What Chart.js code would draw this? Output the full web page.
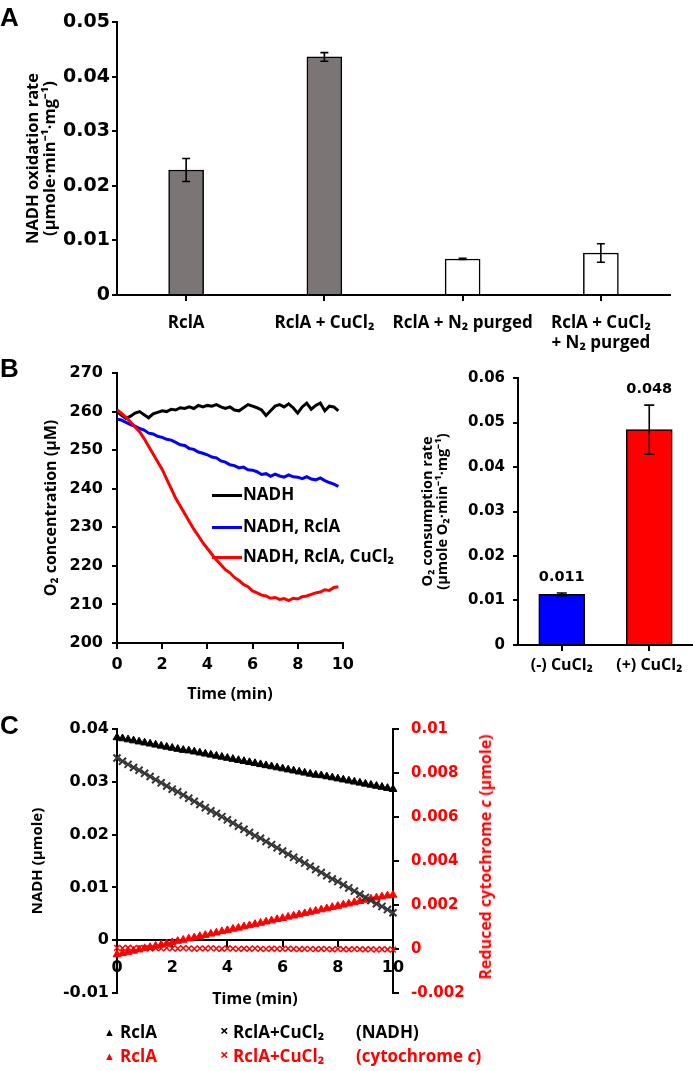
<!DOCTYPE html>
<html>
<head>
<meta charset="utf-8">
<script src="https://cdn.jsdelivr.net/npm/chart.js@4.4.1/dist/chart.umd.min.js"></script>
<style>
  body { margin: 0; background: #fff; width: 693px; height: 1071px; position: relative; overflow: hidden;
         font-family: 'Open Sans', sans-serif; font-weight: bold; }
  canvas { position: absolute; }
  .t { position: absolute; white-space: nowrap; line-height: 1; font-size: 17px; }
  .letter { position: absolute; font-family: 'Liberation Sans', Arial, sans-serif; font-size: 26px; line-height: 1; }
  .ln { position: absolute; height: 3px; width: 30px; }
  .red { color: #ff0000; }
</style>
</head>
<body>
<canvas id="chartA" width="693" height="355" style="left:0;top:0"></canvas>
<canvas id="chartB1" width="360" height="360" style="left:0;top:350px"></canvas>
<canvas id="chartB2" width="353" height="360" style="left:340px;top:350px"></canvas>
<canvas id="chartC" width="500" height="330" style="left:0;top:700px"></canvas>

<div class="letter" style="left:0;top:4px">A</div>
<div class="letter" style="left:0;top:355px">B</div>
<div class="letter" style="left:0;top:712px">C</div>

<!-- legend B (left) -->
<div class="ln" style="left:212px;top:494px;background:#000"></div>
<div class="t" style="left:243px;top:485px">NADH</div>
<div class="ln" style="left:212px;top:526px;background:#0000ff"></div>
<div class="t" style="left:243px;top:517px">NADH, RclA</div>
<div class="ln" style="left:212px;top:556px;background:#ff0000"></div>
<div class="t" style="left:243px;top:547px">NADH, RclA, CuCl₂</div>

<!-- right axis title C -->
<div class="t red" style="left:485px;top:857px;font-size:16px;transform:translate(-50%,-50%) rotate(-90deg)">Reduced cytochrome <i>c</i> (µmole)</div>

<!-- legend C -->
<div class="t" style="left:104px;top:1026px;font-size:11px">▲</div>
<div class="t" style="left:120px;top:1023px">RclA</div>
<div class="t" style="left:220px;top:1023px;font-size:15px">×</div>
<div class="t" style="left:233px;top:1023px">RclA+CuCl₂</div>
<div class="t" style="left:356px;top:1023px">(NADH)</div>
<div class="t red" style="left:104px;top:1050px;font-size:11px">▲</div>
<div class="t red" style="left:120px;top:1047px">RclA</div>
<div class="t red" style="left:220px;top:1047px;font-size:15px">×</div>
<div class="t red" style="left:233px;top:1047px">RclA+CuCl₂</div>
<div class="t red" style="left:356px;top:1047px">(cytochrome <i>c</i>)</div>

<script>
// ---- panel A: NADH oxidation rate ----
const categoriesA = ['RclA', 'RclA + CuCl₂', 'RclA + N₂ purged', ['RclA + CuCl₂', '+ N₂ purged']];
const ratesA = [0.0229, 0.0436, 0.0066, 0.0077];
const errorsA = [0.0021, 0.0008, 0.0001, 0.0017];

// ---- panel B (left): O2 trace ----
const timeB = [0,0.2,0.4,0.6,0.8,1,1.2,1.4,1.6,1.8,2,2.2,2.4,2.6,2.8,3,3.2,3.4,3.6,3.8,
  4,4.2,4.4,4.6,4.8,5,5.2,5.4,5.6,5.8,6,6.2,6.4,6.6,6.8,7,7.2,7.4,7.6,7.8,
  8,8.2,8.4,8.6,8.8,9,9.2,9.4,9.6,9.8];
const o2Nadh = [260,259,258.2,258.8,259.6,260,259.2,258.4,259.4,259.8,
  260.2,260,260.6,260.4,261,260.8,261.2,260.8,261.6,261.2,
  261.6,261.4,261.8,261.2,260.8,261.2,260.4,260.2,261,261.8,
  261.4,261,260.4,259,260.2,261.4,261.8,261.2,262,261,
  259.6,261.2,262.2,260.6,261.6,262.2,260.2,261.4,261.2,260.2];
const o2Rcla = [258,257.8,257.2,256.6,256.2,255.6,255.2,254.4,254.2,253.6,
  253.3,252.8,252.6,252,251.4,251.2,250.4,250.2,249.5,249.2,
  248.8,248.2,248,247.2,246.9,246.2,246,245.4,245.6,244.9,
  244.8,244.4,243.7,243.9,243.2,243.8,243.3,243,243.6,243.1,
  243,242.6,243.1,242.5,242.3,242.8,242.1,241.6,241.2,240.6];
const o2RclaCu = [260.5,259.5,258.5,257.3,256,254.8,253,251,249,247,
  245,242.5,240,237.5,235.5,233.5,231.5,229.5,227.8,226,
  224.5,223,221.5,220.3,219,218.2,217,216.2,215.2,214.6,
  213.5,213,212.4,212.2,211.6,211.8,211.3,211.5,211,211.6,
  211.4,212,212.2,212.6,213,213.2,213.8,213.6,214.4,214.6];

// ---- panel B (right): O2 consumption rate ----
const categoriesB = ['(-) CuCl₂', '(+) CuCl₂'];
const ratesB = [0.0114, 0.0484];
const errorsB = [0.0003, 0.0055];

// ---- panel C: NADH and reduced cytochrome c ----
const timeC = [0,0.2,0.4,0.6,0.8,1,1.2,1.4,1.6,1.8,2,2.2,2.4,2.6,2.8,3,3.2,3.4,3.6,3.8,
  4,4.2,4.4,4.6,4.8,5,5.2,5.4,5.6,5.8,6,6.2,6.4,6.6,6.8,7,7.2,7.4,7.6,7.8,
  8,8.2,8.4,8.6,8.8,9,9.2,9.4,9.6,9.8,10];
const nadhRcla = [0.0384,0.0382,0.0380,0.0378,0.0376,0.0374,0.0372,0.0370,0.0368,0.0366,
  0.0364,0.0362,0.0360,0.0359,0.0357,0.0355,0.0353,0.0351,0.0349,0.0347,
  0.0345,0.0343,0.0341,0.0339,0.0337,0.0335,0.0333,0.0331,0.0329,0.0327,
  0.0325,0.0323,0.0321,0.0319,0.0317,0.0315,0.0313,0.0312,0.0310,0.0308,
  0.0306,0.0304,0.0302,0.0300,0.0298,0.0296,0.0294,0.0292,0.0290,0.0288,0.0286];
const nadhRclaCu = [0.0345,0.0339,0.0333,0.0327,0.0322,0.0316,0.0310,0.0304,0.0298,0.0292,
  0.0286,0.0281,0.0275,0.0269,0.0263,0.0257,0.0251,0.0245,0.0240,0.0234,
  0.0228,0.0222,0.0216,0.0210,0.0204,0.0198,0.0193,0.0187,0.0181,0.0175,
  0.0169,0.0163,0.0157,0.0152,0.0146,0.0140,0.0134,0.0128,0.0122,0.0116,
  0.0111,0.0105,0.0099,0.0093,0.0087,0.0081,0.0075,0.0069,0.0064,0.0058,0.0052];
const cytRcla = [-0.00025,-0.00020,-0.00014,-0.00009,-0.00003,0.00003,0.00008,0.00014,0.00019,0.00025,
  0.00030,0.00036,0.00041,0.00047,0.00052,0.00058,0.00063,0.00069,0.00074,0.00080,
  0.00085,0.00091,0.00096,0.00102,0.00107,0.00113,0.00118,0.00124,0.00129,0.00135,
  0.00140,0.00146,0.00151,0.00157,0.00162,0.00168,0.00173,0.00179,0.00184,0.00190,
  0.00195,0.00201,0.00206,0.00212,0.00217,0.00223,0.00228,0.00233,0.00238,0.00242,0.00246];
const cytRclaCu = [0.00005,0.00004,0.00006,0.00003,0.00005,0.00004,0.00002,0.00004,0.00003,0.00005,
  0.00003,0.00002,0.00004,0.00003,0.00001,0.00003,0.00002,0.00004,0.00002,0.00001,
  0.00003,0.00002,0.00000,0.00002,0.00001,0.00003,0.00001,0.00000,0.00002,0.00001,
  0.00000,0.00002,0.00001,-0.00001,0.00001,0.00000,-0.00001,0.00001,0.00000,-0.00002,
  0.00000,-0.00001,-0.00002,0.00000,-0.00001,-0.00002,-0.00001,-0.00003,-0.00001,-0.00002,-0.00003];

const TXT = "'Open Sans', sans-serif";
const NUM = "'DejaVu Sans', sans-serif";

Chart.defaults.animation = false;
Chart.defaults.responsive = false;
Chart.defaults.devicePixelRatio = 1;
Chart.defaults.plugins.legend.display = false;
Chart.defaults.plugins.tooltip.enabled = false;
Chart.defaults.color = '#000';

const fmt = v => (Math.abs(v) < 1e-12 ? '0' : String(+v.toFixed(4)));
const pts = (xs, ys) => xs.map((x, i) => ({ x: x, y: ys[i] }));
const border = { color: '#000', width: 2 };
const tickGrid = len => ({ drawOnChartArea: false, color: '#000', lineWidth: 2, tickLength: len });

// error bars (and optional value labels) drawn from the y scale
const errorBars = {
  id: 'errorBars',
  afterDatasetsDraw(chart, args, opts) {
    const ctx = chart.ctx;
    const y = chart.scales.y;
    const ds = chart.data.datasets[0];
    ctx.save();
    ctx.strokeStyle = '#000';
    ctx.lineWidth = 1.6;
    chart.getDatasetMeta(0).data.forEach((bar, i) => {
      const v = ds.data[i], e = opts.errors[i];
      const top = y.getPixelForValue(v + e), bot = y.getPixelForValue(v - e);
      const x = bar.x, c = opts.cap;
      ctx.beginPath();
      ctx.moveTo(x, top); ctx.lineTo(x, bot);
      ctx.moveTo(x - c, top); ctx.lineTo(x + c, top);
      ctx.moveTo(x - c, bot); ctx.lineTo(x + c, bot);
      ctx.stroke();
      if (opts.labels) {
        ctx.fillStyle = '#000';
        ctx.font = 'bold 14.5px ' + NUM;
        ctx.textAlign = 'center';
        ctx.textBaseline = 'middle';
        ctx.fillText(v.toFixed(3), x, top - 16);
      }
    });
    ctx.restore();
  }
};

// ---- A ----
new Chart(document.getElementById('chartA'), {
  type: 'bar',
  data: {
    labels: categoriesA,
    datasets: [{
      data: ratesA,
      backgroundColor: ['#7b7575', '#7b7575', '#ffffff', '#ffffff'],
      borderColor: '#000',
      borderWidth: 1.5,
      barThickness: 35
    }]
  },
  plugins: [errorBars],
  options: {
    layout: { padding: { top: 22, right: 23, bottom: 0, left: 0 } },
    plugins: { errorBars: { errors: errorsA, cap: 4 } },
    scales: {
      x: {
        grid: Object.assign(tickGrid(6), { offset: false }),
        border: border,
        ticks: { font: { family: TXT, size: 17, weight: 'bold' }, padding: 12, maxRotation: 0, autoSkip: false },
        afterFit: s => { s.height = 60; }
      },
      y: {
        min: 0, max: 0.05,
        grid: tickGrid(5),
        border: border,
        ticks: { stepSize: 0.01, callback: fmt, padding: 2, font: { family: NUM, size: 19, weight: 'bold' } },
        title: {
          display: true,
          text: ['NADH oxidation rate', '(µmole·min⁻¹·mg⁻¹)'],
          font: { family: TXT, size: 16.5, weight: 'bold', lineHeight: 1.05 },
          padding: { top: 24.3, bottom: 0 }
        },
        afterFit: s => { s.width = 117; }
      }
    }
  }
});

// ---- B left ----
new Chart(document.getElementById('chartB1'), {
  type: 'line',
  data: {
    datasets: [
      { label: 'NADH, RclA, CuCl₂', data: pts(timeB, o2RclaCu), borderColor: '#ff0000', borderWidth: 3, pointRadius: 0, order: 0 },
      { label: 'NADH, RclA', data: pts(timeB, o2Rcla), borderColor: '#0000ff', borderWidth: 3, pointRadius: 0, order: 1 },
      { label: 'NADH', data: pts(timeB, o2Nadh), borderColor: '#000', borderWidth: 3, pointRadius: 0, order: 2 }
    ]
  },
  options: {
    layout: { padding: { top: 23, right: 15, bottom: 0, left: 0 } },
    scales: {
      x: {
        type: 'linear', min: 0, max: 10,
        grid: tickGrid(6),
        border: border,
        ticks: { stepSize: 2, padding: 6, font: { family: NUM, size: 16, weight: 'bold' } },
        title: { display: true, text: 'Time (min)', font: { family: TXT, size: 16, weight: 'bold' }, padding: { top: 0, bottom: 6 } },
        afterFit: s => { s.height = 67; }
      },
      y: {
        min: 200, max: 270,
        grid: tickGrid(5),
        border: border,
        ticks: { stepSize: 10, padding: 9, font: { family: NUM, size: 16, weight: 'bold' } },
        title: { display: true, text: 'O₂ concentration (µM)', font: { family: TXT, size: 16, weight: 'bold' }, padding: { top: 42, bottom: 0 } },
        afterFit: s => { s.width = 117; }
      }
    }
  }
});

// ---- B right ----
new Chart(document.getElementById('chartB2'), {
  type: 'bar',
  data: {
    labels: categoriesB,
    datasets: [{
      data: ratesB,
      backgroundColor: ['#0000ff', '#ff0000'],
      borderColor: '#000',
      borderWidth: 1.5,
      barThickness: 46
    }]
  },
  plugins: [errorBars],
  options: {
    layout: { padding: { top: 28, right: 0, bottom: 0, left: 0 } },
    plugins: { errorBars: { errors: errorsB, cap: 5, labels: true } },
    scales: {
      x: {
        grid: Object.assign(tickGrid(6), { offset: false }),
        border: border,
        ticks: { font: { family: TXT, size: 16, weight: 'bold' }, padding: 5, maxRotation: 0, autoSkip: false },
        afterFit: s => { s.height = 65; }
      },
      y: {
        min: 0, max: 0.06,
        grid: tickGrid(5),
        border: border,
        ticks: { stepSize: 0.01, callback: fmt, padding: 8, font: { family: NUM, size: 15, weight: 'bold' } },
        title: {
          display: true,
          text: ['O₂ consumption rate', '(µmole O₂·min⁻¹·mg⁻¹)'],
          font: { family: TXT, size: 14.5, weight: 'bold', lineHeight: 1.05 },
          padding: { top: 80.4, bottom: 0 }
        },
        afterFit: s => { s.width = 178; }
      }
    }
  }
});

// ---- C ----
new Chart(document.getElementById('chartC'), {
  type: 'scatter',
  data: {
    datasets: [
      { data: pts(timeC, nadhRcla), yAxisID: 'yL', pointStyle: 'triangle', pointRadius: 4.5,
        backgroundColor: '#000', borderColor: '#000', borderWidth: 1, clip: false },
      { data: pts(timeC, nadhRclaCu), yAxisID: 'yL', pointStyle: 'crossRot', pointRadius: 5,
        backgroundColor: '#333', borderColor: '#333', borderWidth: 2, clip: false },
      { data: pts(timeC, cytRcla), yAxisID: 'yR', pointStyle: 'triangle', pointRadius: 4.5,
        backgroundColor: '#ff0000', borderColor: '#ff0000', borderWidth: 1, clip: false },
      { data: pts(timeC, cytRclaCu), yAxisID: 'yR', pointStyle: 'crossRot', pointRadius: 4,
        backgroundColor: '#ff0000', borderColor: '#ff0000', borderWidth: 1.5, clip: false }
    ]
  },
  options: {
    layout: { padding: { top: 29, right: 0, bottom: 37, left: 0 } },
    scales: {
      x: {
        type: 'linear', min: 0, max: 10,
        position: { yL: 0 },
        grid: tickGrid(6),
        border: border,
        ticks: { stepSize: 2, padding: 12, font: { family: NUM, size: 16, weight: 'bold' } },
        title: { display: true, text: 'Time (min)', font: { family: TXT, size: 16, weight: 'bold' }, padding: { top: 0, bottom: 0 } }
      },
      yL: {
        position: 'left', min: -0.01, max: 0.04,
        grid: tickGrid(5),
        border: border,
        ticks: { stepSize: 0.01, callback: fmt, padding: 3, font: { family: NUM, size: 16, weight: 'bold' } },
        title: { display: true, text: 'NADH (µmole)', font: { family: TXT, size: 15, weight: 'bold' }, padding: { top: 29, bottom: 0 } },
        afterFit: s => { s.width = 117; }
      },
      yR: {
        position: 'right', min: -0.002, max: 0.01,
        grid: tickGrid(6),
        border: border,
        ticks: { stepSize: 0.002, callback: fmt, padding: 12, color: '#ff0000', font: { family: NUM, size: 15, weight: 'bold' } },
        afterFit: s => { s.width = 107; }
      }
    }
  }
});
</script>
</body>
</html>
